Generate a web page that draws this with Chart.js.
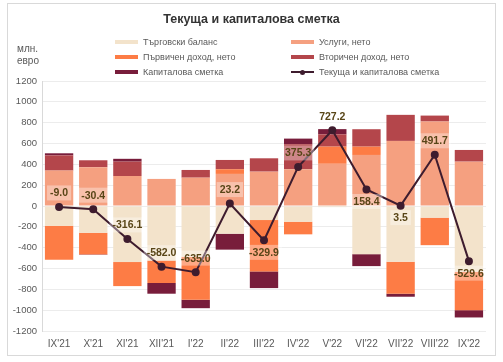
<!DOCTYPE html>
<html>
<head>
<meta charset="utf-8">
<script src="https://cdn.jsdelivr.net/npm/chart.js@4/dist/chart.umd.min.js"></script>
<style>
  html, body { margin: 0; padding: 0; background: #fff; }
  #wrap { position: relative; width: 503px; height: 362px; overflow: hidden; font-family: "Liberation Sans", Arial, sans-serif; }
  #frame { position: absolute; left: 7px; top: 3px; width: 489px; height: 353px; border: 1px solid #d9d9d9; box-sizing: border-box; }
  #c { position: absolute; left: 0; top: 0; }
  #title { position: absolute; left: 0; width: 503px; top: 12px; text-align: center; font-weight: bold; font-size: 12.5px; color: #333; font-family: "Liberation Sans Narrow", "Liberation Sans", Arial, sans-serif; }
  #unit { position: absolute; left: 17px; top: 43px; font-size: 10px; line-height: 12px; color: #595959; }
  .lg { position: absolute; font-size: 9px; color: #595959; white-space: nowrap; font-family: "Liberation Sans Narrow", "Liberation Sans", Arial, sans-serif; }
  .lg span.sw { position: absolute; left: 0; top: 4px; width: 23px; height: 4px; }
  .lg span.t { position: absolute; left: 28px; top: 0; line-height: 12px; }
</style>
</head>
<body>
<div id="wrap">
  <div id="frame"></div>
  <canvas id="c" width="503" height="362"></canvas>
  <div id="title">Текуща и капиталова сметка</div>
  <div id="unit">млн.<br>евро</div>
  <div id="legend"></div>
</div>
<script>
// ---- data ----
const categories = ["IX'21","X'21","XI'21","XII'21","I'22","II'22","III'22","IV'22","V'22","VI'22","VII'22","VIII'22","IX'22"];
const tradeBalance   = [-190, -257, -538, -524, -488, -266, -135, -151, -11, -462, -535, -112, -632];
const servicesNet    = [ 340,  372,  288,  260,  272,  308,  330,  353, 405,  490,  625,  811,  426];
const primaryIncome  = [-325, -208, -231, -215, -412,   45, -493, -121, 165,   80, -307, -264, -368];
const secondaryIncome= [ 146,   67,  138,    0,   74,   89,  128,  240, 118,  167,  250,   57,  112];
const capitalAccount = [  20,   -4,   27, -103,  -81, -153, -160,   54,  50, -115,  -29,    0,  -70];
const currentCapital = [-9.0, -30.4, -316.1, -582.0, -635.0, 23.2, -329.9, 375.3, 727.2, 158.4, 3.5, 491.7, -529.6];
const yTicks = [-1200,-1000,-800,-600,-400,-200,0,200,400,600,800,1000,1200];
const seriesNames = ["Търговски баланс","Услуги, нето","Първичен доход, нето","Вторичен доход, нето","Капиталова сметка","Текуща и капиталова сметка"];

// ---- styles ----
const colors = ["#F3E3CB","#F5A080","#FD7C45","#B4464B","#781D3B","#3E1C2E"];
const labelSide = ["up","up","up","up","up","up","down","up","up","down","down","up","down"];

// legend (HTML, real text)
const legendPos = [[115,36],[291,36],[115,51],[291,51],[115,66],[291,66]];
const lg = document.getElementById('legend');
seriesNames.forEach((name, i) => {
  const d = document.createElement('div');
  d.className = 'lg';
  d.style.left = legendPos[i][0] + 'px';
  d.style.top = legendPos[i][1] + 'px';
  if (i === 5) {
    d.innerHTML = '<span class="sw" style="top:5px;height:2px;background:' + colors[5] + '"></span>' +
      '<span style="position:absolute;left:9px;top:3.5px;width:5px;height:5px;border-radius:50%;background:' + colors[5] + '"></span>' +
      '<span class="t">' + name + '</span>';
  } else {
    d.innerHTML = '<span class="sw" style="background:' + colors[i] + '"></span><span class="t">' + name + '</span>';
  }
  lg.appendChild(d);
});

const barSeries = [tradeBalance, servicesNet, primaryIncome, secondaryIncome, capitalAccount];
const datasets = barSeries.map((arr, i) => ({
  type: 'bar',
  label: seriesNames[i],
  data: arr,
  backgroundColor: colors[i],
  borderWidth: 0,
  stack: 'bars',
  order: 2,
  barPercentage: 0.83,
  categoryPercentage: 1.0
}));
datasets.push({
  type: 'line',
  label: seriesNames[5],
  data: currentCapital,
  borderColor: colors[5],
  backgroundColor: colors[5],
  borderWidth: 2,
  pointRadius: 3,
  pointHoverRadius: 3,
  stack: 'line',
  order: 0,
  tension: 0
});

const labelPlugin = {
  id: 'lineLabels',
  afterDatasetsDraw(chart) {
    const ctx = chart.ctx;
    const meta = chart.getDatasetMeta(5);
    ctx.save();
    ctx.font = 'bold 10.5px "Liberation Sans Narrow", "Liberation Sans", Arial, sans-serif';
    ctx.textAlign = 'center';
    ctx.textBaseline = 'middle';
    meta.data.forEach((pt, i) => {
      const txt = currentCapital[i].toFixed(1);
      const y = pt.y + (labelSide[i] === 'up' ? -14 : 12);
      const x = pt.x;
      const w = ctx.measureText(txt).width + 6;
      const h = 15;
      ctx.fillStyle = 'rgba(255,255,255,0.35)';
      ctx.fillRect(x - w / 2, y - h / 2, w, h);
      ctx.fillStyle = '#584517';
      ctx.fillText(txt, x, y + 0.5);
    });
    ctx.restore();
  }
};

new Chart(document.getElementById('c'), {
  data: { labels: categories, datasets },
  plugins: [labelPlugin],
  options: {
    responsive: false,
    animation: false,
    events: [],
    layout: { padding: { top: 81, left: 0, right: 17, bottom: 9 } },
    plugins: { legend: { display: false }, tooltip: { enabled: false }, title: { display: false } },
    scales: {
      x: {
        stacked: true,
        grid: { display: false, drawTicks: false },
        border: { display: false },
        ticks: { color: '#595959', font: { size: 10, family: '"Liberation Sans", Arial, sans-serif' }, padding: 7, maxRotation: 0, autoSkip: false },
        afterFit(s) { s.height = 22; }
      },
      y: {
        stacked: true,
        min: -1200, max: 1200,
        afterBuildTicks(s) { s.ticks = yTicks.map(v => ({ value: v })); },
        grid: { color: '#ececec', drawTicks: false, lineWidth: 1 },
        border: { display: true, color: '#d9d9d9' },
        ticks: { color: '#595959', font: { size: 9.5, family: '"Liberation Sans", Arial, sans-serif' }, padding: 5, callback: (v) => String(v) },
        afterFit(s) { s.width = 42; }
      }
    }
  }
});
</script>
</body>
</html>
